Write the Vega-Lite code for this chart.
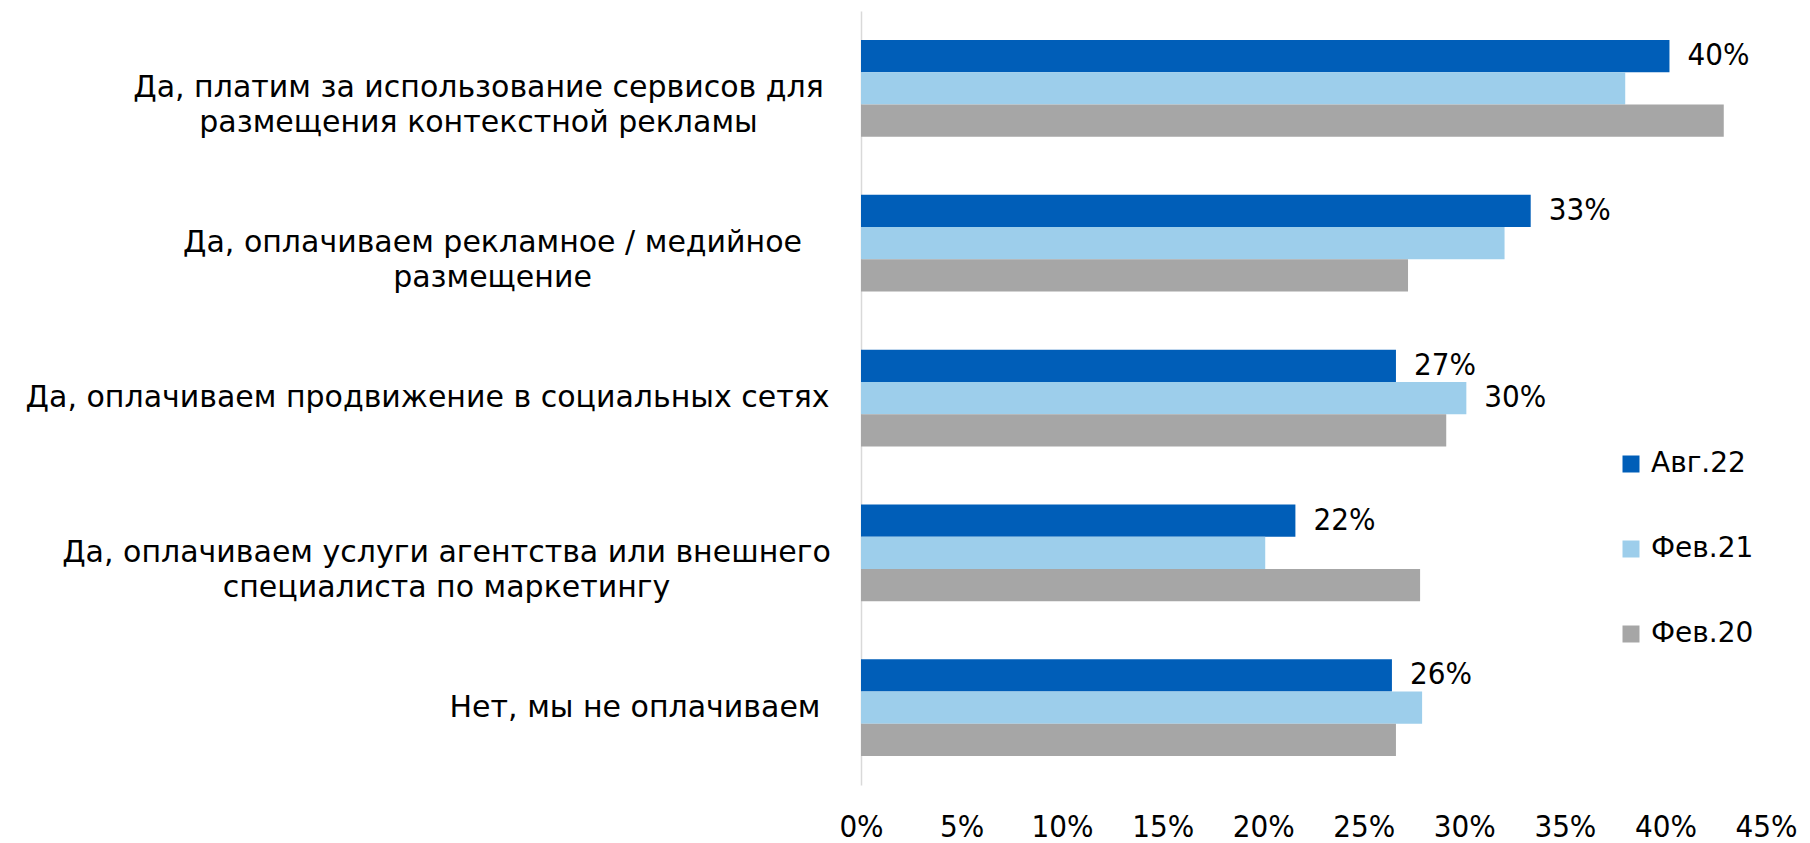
{
  "$schema": "https://vega.github.io/schema/vega-lite/v6.json",
  "width": 905,
  "height": 774,
  "autosize": {"type": "none"},
  "padding": {"left": 861, "top": 11, "right": 44, "bottom": 58},
  "background": "white",
  "config": {"view": {"stroke": null}},
  "data": {
    "values": [
      {"category": "Да, платим за использование сервисов для|размещения контекстной рекламы", "series": "Авг.22", "value": 40.2, "label": "40%"},
      {"category": "Да, платим за использование сервисов для|размещения контекстной рекламы", "series": "Фев.21", "value": 38.0, "label": ""},
      {"category": "Да, платим за использование сервисов для|размещения контекстной рекламы", "series": "Фев.20", "value": 42.9, "label": ""},
      {"category": "Да, оплачиваем рекламное / медийное|размещение", "series": "Авг.22", "value": 33.3, "label": "33%"},
      {"category": "Да, оплачиваем рекламное / медийное|размещение", "series": "Фев.21", "value": 32.0, "label": ""},
      {"category": "Да, оплачиваем рекламное / медийное|размещение", "series": "Фев.20", "value": 27.2, "label": ""},
      {"category": "Да, оплачиваем продвижение в социальных сетях", "series": "Авг.22", "value": 26.6, "label": "27%"},
      {"category": "Да, оплачиваем продвижение в социальных сетях", "series": "Фев.21", "value": 30.1, "label": "30%"},
      {"category": "Да, оплачиваем продвижение в социальных сетях", "series": "Фев.20", "value": 29.1, "label": ""},
      {"category": "Да, оплачиваем услуги агентства или внешнего|специалиста по маркетингу", "series": "Авг.22", "value": 21.6, "label": "22%"},
      {"category": "Да, оплачиваем услуги агентства или внешнего|специалиста по маркетингу", "series": "Фев.21", "value": 20.1, "label": ""},
      {"category": "Да, оплачиваем услуги агентства или внешнего|специалиста по маркетингу", "series": "Фев.20", "value": 27.8, "label": ""},
      {"category": "Нет, мы не оплачиваем", "series": "Авг.22", "value": 26.4, "label": "26%"},
      {"category": "Нет, мы не оплачиваем", "series": "Фев.21", "value": 27.9, "label": ""},
      {"category": "Нет, мы не оплачиваем", "series": "Фев.20", "value": 26.6, "label": ""}
    ]
  },
  "encoding": {
    "y": {
      "field": "category",
      "type": "nominal",
      "sort": null,
      "scale": {"paddingInner": 0.375, "paddingOuter": 0.1875},
      "axis": {
        "title": null,
        "domain": true,
        "domainColor": "#D9D9D9",
        "domainWidth": 1.5,
        "ticks": false,
        "tickSize": 0,
        "grid": false,
        "labelExpr": "split(datum.label, '|')",
        "labelFont": "DejaVu Sans",
        "labelFontSize": 30,
        "labelColor": "#000000",
        "labelLineHeight": 35,
        "labelLimit": 0,
        "labelBaseline": "middle",
        "labelAlign": {"condition": {"test": "indexof(datum.value, '|') >= 0", "value": "center"}, "value": "right"},
        "labelPadding": {
          "condition": [
            {"test": "indexof(datum.value, 'сервисов') >= 0", "value": 383},
            {"test": "indexof(datum.value, 'медийное') >= 0", "value": 369},
            {"test": "indexof(datum.value, 'агентства') >= 0", "value": 415},
            {"test": "indexof(datum.value, 'Нет') >= 0", "value": 41}
          ],
          "value": 32
        }
      }
    },
    "yOffset": {"field": "series", "type": "nominal", "sort": ["Авг.22", "Фев.21", "Фев.20"]},
    "x": {
      "field": "value",
      "type": "quantitative",
      "scale": {"domain": [0, 45], "nice": false},
      "axis": {
        "title": null,
        "domain": false,
        "ticks": false,
        "grid": false,
        "values": [0, 5, 10, 15, 20, 25, 30, 35, 40, 45],
        "labelExpr": "datum.value + '%'",
        "labelFont": "Liberation Sans Narrow, DejaVu Sans Condensed, sans-serif",
        "labelFontSize": 31,
        "labelColor": "#000000",
        "labelPadding": 27,
        "labelFlush": false,
        "labelOverlap": false
      }
    }
  },
  "layer": [
    {
      "mark": {"type": "bar"},
      "encoding": {
        "color": {
          "field": "series",
          "type": "nominal",
          "sort": ["Авг.22", "Фев.21", "Фев.20"],
          "scale": {"domain": ["Авг.22", "Фев.21", "Фев.20"], "range": ["#005EB8", "#9DCEEB", "#A6A6A6"]},
          "legend": {
            "orient": "none",
            "legendX": 756,
            "legendY": 439,
            "title": null,
            "padding": 0,
            "symbolType": "square",
            "symbolSize": 289,
            "symbolStrokeWidth": 0,
            "labelFont": "DejaVu Sans",
            "labelFontSize": 28,
            "labelColor": "#000000",
            "labelOffset": 6,
            "rowPadding": 57
          }
        }
      }
    },
    {
      "transform": [{"filter": "datum.label != ''"}],
      "mark": {"type": "text", "align": "left", "baseline": "middle", "dx": 18, "font": "Liberation Sans Narrow, DejaVu Sans Condensed, sans-serif", "fontSize": 31, "color": "#000000"},
      "encoding": {"text": {"field": "label", "type": "nominal"}}
    }
  ]
}
